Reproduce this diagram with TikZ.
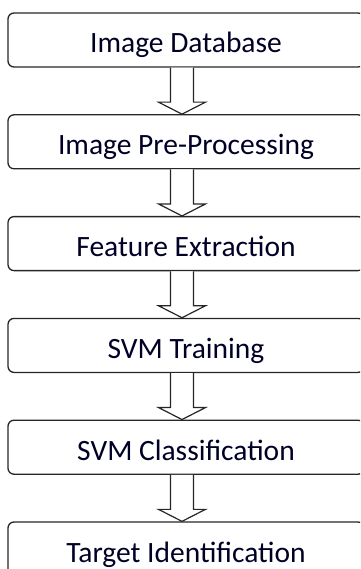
\documentclass[tikz,border=0pt]{standalone}
\usepackage{fontspec}
\setmainfont{Carlito}
\usetikzlibrary{positioning,calc}

\tikzset{
  stage/.style={draw=black!85, line width=1.3pt, rounded corners=6pt,
    minimum width=356pt, inner xsep=0pt, inner ysep=0pt,
    text height=40pt, text depth=14pt,
    font=\fontsize{29.5}{32}\selectfont, text=black!85!blue},
  blockarrow/.style={draw=black!85, line width=1.2pt, fill=white, line join=miter},
}
% hollow block arrow from one stage to the next
\newcommand{\flowarrow}[2]{%
  \draw[blockarrow] ($(#1.south)+(-15.5,0)$) -- ($(#2.north)+(-15.5,-12)$)
    -- ($(#2.north)+(-27.5,-12)$) -- ($(#2.north)+(-4,0)$)
    -- ($(#2.north)+(19.5,-12)$) -- ($(#2.north)+(7.5,-12)$)
    -- ($(#1.south)+(7.5,0)$);}

\begin{document}
\begin{tikzpicture}[x=1pt, y=-1pt, node distance=46.5pt]
    \clip (0,0) rectangle (360,569);
    \useasboundingbox (0,0) rectangle (360,569);
    \node[stage] (db) at (186,40) {Image Database};
    \node[stage, below=of db] (pre) {Image Pre-Processing};
    \node[stage, below=of pre] (feat) {Feature Extraction};
    \node[stage, below=of feat] (train) {SVM Training};
    \node[stage, below=of train] (cls) {SVM Classification};
    \node[stage, below=of cls] (tgt) {Target Identification};
    \flowarrow{db}{pre}
    \flowarrow{pre}{feat}
    \flowarrow{feat}{train}
    \flowarrow{train}{cls}
    \flowarrow{cls}{tgt}
\end{tikzpicture}
\end{document}
